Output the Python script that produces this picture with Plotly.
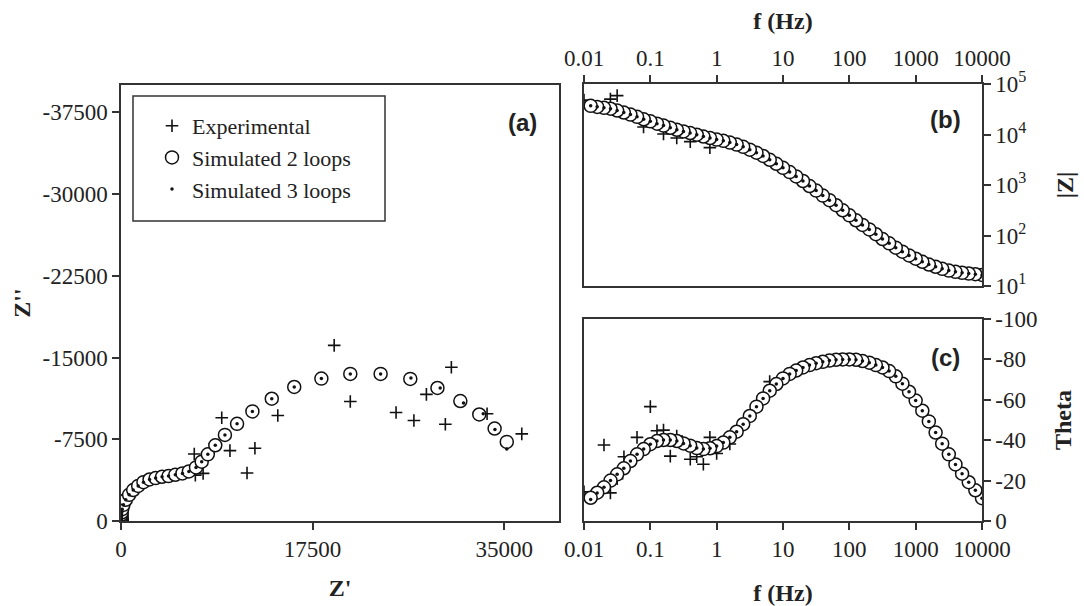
import plotly.graph_objects as go

# ---------------- data ----------------
# simulated frequencies (Hz), 10 points per decade
freq = [0.0126, 0.0158, 0.02, 0.0251, 0.0316, 0.0398, 0.0501, 0.0631, 0.0794, 0.1,
        0.126, 0.158, 0.2, 0.251, 0.316, 0.398, 0.501, 0.631, 0.794, 1.0,
        1.26, 1.58, 2.0, 2.51, 3.16, 3.98, 5.01, 6.31, 7.94, 10,
        12.6, 15.8, 20, 25.1, 31.6, 39.8, 50.1, 63.1, 79.4, 100,
        126, 158, 200, 251, 316, 398, 501, 631, 794, 1000,
        1260, 1580, 2000, 2510, 3160, 3980, 5010, 6310, 7940, 10000]

sim2_modz = [36900, 35200, 33700, 32400, 29800, 27200, 24800, 22400, 20000, 18200,
             16400, 15000, 13600, 12400, 11500, 10700, 9890, 9120, 8510, 7940,
             7500, 6920, 6310, 5690, 5010, 4370, 3760, 3160, 2630, 2190,
             1800, 1480, 1200, 955, 776, 617, 501, 398, 316, 251,
             200, 162, 132, 106, 85.1, 70.0, 57.5, 47.9, 40.3, 34.7,
             30.2, 26.6, 24.0, 21.9, 20.2, 19.1, 18.2, 17.6, 17.1, 16.6]
sim3_modz = [37300, 35300, 33700, 32400, 29800, 27200, 24800, 22400, 20000, 18200,
             16400, 15000, 13600, 12400, 11500, 10700, 9890, 9120, 8510, 7940,
             7500, 6920, 6310, 5690, 5010, 4370, 3760, 3160, 2630, 2190,
             1800, 1480, 1200, 955, 776, 617, 501, 398, 316, 251,
             200, 162, 132, 106, 85.1, 70.0, 57.5, 47.9, 40.3, 34.7,
             30.2, 26.6, 24.0, 21.9, 20.2, 19.1, 18.2, 17.6, 17.1, 16.6]

sim2_theta = [-11.5, -14.0, -16.7, -20.0, -23.1, -26.1, -29.7, -33.0, -35.6, -38.0,
              -39.6, -40.1, -40.1, -39.6, -38.4, -37.3, -36.1, -35.6, -36.0, -37.1,
              -38.8, -41.4, -44.2, -47.9, -52.0, -56.6, -60.7, -64.5, -67.8, -70.6,
              -72.8, -74.5, -76.0, -77.2, -78.1, -78.8, -79.4, -79.8, -80.0, -80.0,
              -79.8, -79.2, -78.4, -77.2, -76.0, -74.2, -71.6, -68.0, -64.0, -59.6,
              -54.6, -49.3, -43.8, -38.3, -33.0, -28.0, -23.4, -19.2, -15.2, -11.3]
sim3_theta = [-10.6, -13.8, -16.7, -20.0, -23.1, -26.1, -29.7, -33.0, -35.6, -38.0,
              -39.6, -40.1, -40.1, -39.6, -38.4, -37.3, -36.1, -35.6, -36.0, -37.1,
              -38.8, -41.4, -44.2, -47.9, -52.0, -56.6, -60.7, -64.5, -67.8, -70.6,
              -72.8, -74.5, -76.0, -77.2, -78.1, -78.8, -79.4, -79.8, -80.0, -80.0,
              -79.8, -79.2, -78.4, -77.2, -76.0, -74.2, -71.6, -68.0, -64.0, -59.6,
              -54.6, -49.3, -43.8, -38.3, -33.0, -28.0, -23.4, -19.2, -15.2, -11.3]

# Nyquist coordinates of the simulated spectra (ohm), same frequency order
sim2_zre = [35230, 34120, 32720, 30990, 28900, 26420, 23710, 20940, 18300, 15820,
            13770, 12000, 10600, 9490, 8610, 7930, 7370, 6850, 6200, 5610,
            4960, 4340, 3750, 3160, 2610, 2050, 1570, 1115, 740, 440,
            220, 110, 65, 45, 35, 30, 26, 24, 22, 21,
            20, 19.5, 19, 18.5, 18, 18, 17.5, 17.5, 17.3, 17.2,
            17, 17, 16.9, 16.8, 16.7, 16.6, 16.5, 16.5, 16.4, 16.3]
sim2_zim = [-7255, -8484, -9775, -11005, -12204, -13034, -13495, -13495, -13065, -12296,
            -11220, -10052, -8915, -7900, -6947, -6117, -5441, -4918, -4550, -4365,
            -4242, -4119, -4058, -3935, -3812, -3566, -3220, -2840, -2400, -1950,
            -1480, -1080, -780, -570, -430, -330, -260, -205, -160, -125,
            -100, -80, -64, -52, -42, -34, -28, -23, -19, -16,
            -13, -11, -9, -7.5, -6.2, -5.1, -4.2, -3.5, -2.9, -2.4]
sim3_zre = [35230, 34150, 33080, 31280, 29150, 26480, 23710, 20940, 18300, 15820,
            13770, 12000, 10600, 9490, 8610, 7930, 7370, 6850, 6200, 5610,
            4960, 4340, 3750, 3160, 2610, 2050, 1570, 1115, 740, 440,
            220, 110, 65, 45, 35, 30, 26, 24, 22, 21,
            20, 19.5, 19, 18.5, 18, 18, 17.5, 17.5, 17.3, 17.2,
            17, 17, 16.9, 16.8, 16.7, 16.6, 16.5, 16.5, 16.4, 16.3]
sim3_zim = [-6600, -8400, -9840, -10830, -12200, -13130, -13495, -13495, -13065, -12296,
            -11220, -10052, -8915, -7900, -6947, -6117, -5441, -4918, -4550, -4365,
            -4242, -4119, -4058, -3935, -3812, -3566, -3220, -2840, -2400, -1950,
            -1480, -1080, -780, -570, -430, -330, -260, -205, -160, -125,
            -100, -80, -64, -52, -42, -34, -28, -23, -19, -16,
            -13, -11, -9, -7.5, -6.2, -5.1, -4.2, -3.5, -2.9, -2.4]

# experimental points
exp_freq = [0.01, 0.02, 0.025, 0.0316, 0.04, 0.063, 0.079, 0.1, 0.126, 0.158,
            0.2, 0.25, 0.4, 0.5, 0.63, 0.79, 1.0, 1.58, 6.3]
exp_modz = [47900, 33100, 50100, 58900, 26900, 22400, 14100, 18200, 16400, 10200,
            13600, 8500, 7240, 9900, 9100, 5500, 7940, 6900, 3160]
exp_theta = [-14.4, -37.6, -13.9, -21.0, -31.8, -41.4, -35.4, -56.6, -44.7, -45.0,
             -32.1, -42.0, -30.6, -31.8, -28.1, -41.4, -33.4, -38.1, -69.0]
exp_zre = [36600, 33430, 30170, 29620, 27890, 26750, 25120, 20940, 19470, 14320,
           12230, 11510, 9950, 9200, 7500, 6790, 6690]
exp_zim = [-7990, -9840, -14110, -8880, -11620, -9220, -9960, -10970, -16110, -9680,
           -6670, -4400, -6460, -9470, -4370, -4210, -6150]

# axis ticks
za_xticks = [0, 17500, 35000]
za_xlabels = ["0", "17500", "35000"]
za_yticks = [0, -7500, -15000, -22500, -30000, -37500]
za_ylabels = ["0", "-7500", "-15000", "-22500", "-30000", "-37500"]
f_ticks = [0.01, 0.1, 1, 10, 100, 1000, 10000]
f_labels = ["0.01", "0.1", "1", "10", "100", "1000", "10000"]
mod_ticks = [10, 100, 1000, 10000, 100000]
mod_labels = ["10<sup>1</sup>", "10<sup>2</sup>", "10<sup>3</sup>", "10<sup>4</sup>", "10<sup>5</sup>"]
th_ticks = [0, -20, -40, -60, -80, -100]
th_labels = ["0", "-20", "-40", "-60", "-80", "-100"]

# ---------------- styling ----------------
W, H = 1084, 606
SERIF = "Liberation Serif, Times New Roman, serif"
SANS = "Liberation Sans, Arial, sans-serif"
LINE = "#333333"

def px_x(p):
    return p / W

def px_y(p):
    return 1 - p / H

circ = dict(symbol="circle", size=13, color="white", line=dict(color="#111111", width=1.5))
dot = dict(symbol="circle", size=3.5, color="#111111", line=dict(width=0))
plus = dict(symbol="cross-thin", size=9, color="#111111", line=dict(color="#111111", width=1.6))

fig = go.Figure()

def rev(a):
    return list(a)[::-1]

# panel (a) Nyquist
fig.add_trace(go.Scatter(x=exp_zre, y=exp_zim, mode="markers", marker=plus,
                         name="Experimental", xaxis="x", yaxis="y", legendgroup="e"))
fig.add_trace(go.Scatter(x=rev(sim2_zre), y=rev(sim2_zim), mode="markers", marker=circ,
                         name="Simulated 2 loops", xaxis="x", yaxis="y", legendgroup="s2"))
fig.add_trace(go.Scatter(x=rev(sim3_zre), y=rev(sim3_zim), mode="markers", marker=dot,
                         name="Simulated 3 loops", xaxis="x", yaxis="y", legendgroup="s3"))
# panel (b) |Z|
fig.add_trace(go.Scatter(x=exp_freq, y=exp_modz, mode="markers", marker=plus,
                         showlegend=False, xaxis="x2", yaxis="y2"))
fig.add_trace(go.Scatter(x=rev(freq), y=rev(sim2_modz), mode="markers", marker=circ,
                         showlegend=False, xaxis="x2", yaxis="y2"))
fig.add_trace(go.Scatter(x=rev(freq), y=rev(sim3_modz), mode="markers", marker=dot,
                         showlegend=False, xaxis="x2", yaxis="y2"))
# panel (c) theta
fig.add_trace(go.Scatter(x=exp_freq, y=exp_theta, mode="markers", marker=plus,
                         showlegend=False, xaxis="x3", yaxis="y3"))
fig.add_trace(go.Scatter(x=rev(freq), y=rev(sim2_theta), mode="markers", marker=circ,
                         showlegend=False, xaxis="x3", yaxis="y3"))
fig.add_trace(go.Scatter(x=rev(freq), y=rev(sim3_theta), mode="markers", marker=dot,
                         showlegend=False, xaxis="x3", yaxis="y3"))

tickfont = dict(family=SERIF, size=23, color="#222222")
titlefont = dict(family=SERIF, size=24, color="#222222")

common = dict(showline=True, linecolor=LINE, linewidth=1.5, mirror=True, showgrid=False,
              zeroline=False, ticks="outside", ticklen=7, tickwidth=1.5, tickcolor=LINE,
              tickfont=tickfont, tickmode="array", automargin=False)

dom_a_x = [px_x(121), px_x(559)]
dom_a_y = [px_y(521), px_y(85)]
dom_bc_x = [px_x(584), px_x(982)]
dom_b_y = [px_y(286), px_y(84)]
dom_c_y = [px_y(521), px_y(319)]

label_font = dict(family=SANS, size=24, color="#222222")

fig.update_layout(
    width=W, height=H,
    margin=dict(l=0, r=0, t=0, b=0, autoexpand=False),
    paper_bgcolor="white", plot_bgcolor="white",
    xaxis=dict(domain=dom_a_x, range=[0, 40000], tickvals=za_xticks, ticktext=za_xlabels,
               anchor="y", title=dict(text="<b>Z'</b>", font=titlefont, standoff=18), **common),
    yaxis=dict(domain=dom_a_y, range=[0, -40000], tickvals=za_yticks, ticktext=za_ylabels,
               anchor="x", title=dict(text="<b>Z''</b>", font=titlefont, standoff=5), **common),
    xaxis2=dict(domain=dom_bc_x, type="log", range=[-2, 4], tickvals=f_ticks, ticktext=f_labels,
                side="top", anchor="y2", title=dict(text="<b>f (Hz)</b>", font=titlefont, standoff=10),
                **common),
    yaxis2=dict(domain=dom_b_y, type="log", range=[1, 5], tickvals=mod_ticks, ticktext=mod_labels,
                side="right", anchor="x2", title=dict(text="<b>|Z|</b>", font=titlefont, standoff=31),
                **common),
    xaxis3=dict(domain=dom_bc_x, type="log", range=[-2, 4], tickvals=f_ticks, ticktext=f_labels,
                side="bottom", anchor="y3", title=dict(text="<b>f (Hz)</b>", font=titlefont, standoff=24),
                **common),
    yaxis3=dict(domain=dom_c_y, range=[0, -100], tickvals=th_ticks, ticktext=th_labels,
                side="right", anchor="x3", title=dict(text="<b>Theta</b>", font=titlefont, standoff=18),
                **common),
    showlegend=True,
    legend=dict(x=px_x(152), y=px_y(105), xanchor="left", yanchor="top",
                bgcolor="rgba(0,0,0,0)", borderwidth=0,
                font=dict(family=SERIF, size=22, color="#222222"), tracegroupgap=0),
    shapes=[dict(type="rect", xref="paper", yref="paper",
                 x0=px_x(133), x1=px_x(385), y0=px_y(221), y1=px_y(96),
                 line=dict(color=LINE, width=1.5), fillcolor="rgba(0,0,0,0)")],
    annotations=[
        dict(text="<b>(a)</b>", x=px_x(522), y=px_y(122), xref="paper", yref="paper",
             xanchor="center", yanchor="middle", showarrow=False, font=label_font),
        dict(text="<b>(b)</b>", x=px_x(945), y=px_y(119), xref="paper", yref="paper",
             xanchor="center", yanchor="middle", showarrow=False, font=label_font),
        dict(text="<b>(c)</b>", x=px_x(945), y=px_y(357), xref="paper", yref="paper",
             xanchor="center", yanchor="middle", showarrow=False, font=label_font),
    ],
)

fig.write_html("out.html", config={"displayModeBar": False},
               post_script="document.body.style.margin='0px';document.body.style.overflow='hidden';")
